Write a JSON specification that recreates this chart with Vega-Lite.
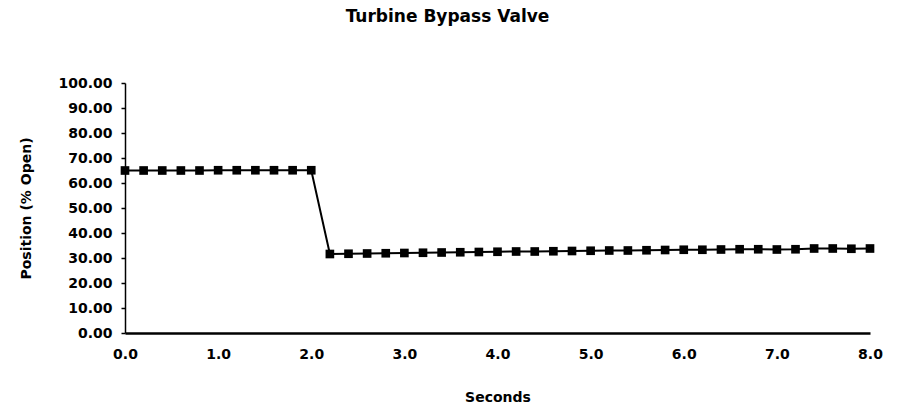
{
  "$schema": "https://vega.github.io/schema/vega-lite/v6.json",
  "autosize": {"type": "none"},
  "width": 745,
  "height": 250,
  "padding": {"left": 125, "top": 83, "right": 31, "bottom": 73},
  "background": "white",
  "title": {
    "text": "Turbine Bypass Valve",
    "font": "DejaVu Sans",
    "fontSize": 17,
    "fontWeight": "bold",
    "color": "black",
    "anchor": "middle",
    "dx": -50,
    "offset": 50
  },
  "config": {
    "view": {"stroke": null},
    "axis": {
      "labelFont": "DejaVu Sans",
      "labelFontWeight": "bold",
      "labelFontSize": 14,
      "labelColor": "black",
      "titleFont": "DejaVu Sans",
      "titleFontWeight": "bold",
      "titleFontSize": 14,
      "titleColor": "black",
      "domainColor": "black",
      "tickColor": "black",
      "grid": false
    }
  },
  "data": {
    "values": [
      {"t": 0.0, "pos": 65.0},
      {"t": 0.2, "pos": 65.0},
      {"t": 0.4, "pos": 65.0},
      {"t": 0.6, "pos": 65.0},
      {"t": 0.8, "pos": 65.0},
      {"t": 1.0, "pos": 65.1},
      {"t": 1.2, "pos": 65.1},
      {"t": 1.4, "pos": 65.1},
      {"t": 1.6, "pos": 65.1},
      {"t": 1.8, "pos": 65.1},
      {"t": 2.0, "pos": 65.1},
      {"t": 2.2, "pos": 31.6},
      {"t": 2.4, "pos": 31.7},
      {"t": 2.6, "pos": 31.8},
      {"t": 2.8, "pos": 31.9},
      {"t": 3.0, "pos": 32.0},
      {"t": 3.2, "pos": 32.1},
      {"t": 3.4, "pos": 32.2},
      {"t": 3.6, "pos": 32.3},
      {"t": 3.8, "pos": 32.4},
      {"t": 4.0, "pos": 32.5},
      {"t": 4.2, "pos": 32.6},
      {"t": 4.4, "pos": 32.6},
      {"t": 4.6, "pos": 32.7},
      {"t": 4.8, "pos": 32.8},
      {"t": 5.0, "pos": 32.9},
      {"t": 5.2, "pos": 33.0},
      {"t": 5.4, "pos": 33.0},
      {"t": 5.6, "pos": 33.1},
      {"t": 5.8, "pos": 33.2},
      {"t": 6.0, "pos": 33.3},
      {"t": 6.2, "pos": 33.3},
      {"t": 6.4, "pos": 33.4},
      {"t": 6.6, "pos": 33.5},
      {"t": 6.8, "pos": 33.5},
      {"t": 7.0, "pos": 33.4},
      {"t": 7.2, "pos": 33.5},
      {"t": 7.4, "pos": 33.8},
      {"t": 7.6, "pos": 33.8},
      {"t": 7.8, "pos": 33.7},
      {"t": 8.0, "pos": 33.8}
    ]
  },
  "encoding": {
    "x": {
      "field": "t",
      "type": "quantitative",
      "scale": {"domain": [0, 8], "nice": false, "zero": false},
      "axis": {
        "title": "Seconds",
        "format": ".1f",
        "values": [0, 1, 2, 3, 4, 5, 6, 7, 8],
        "ticks": false,
        "labelPadding": 14,
        "domainWidth": 2.5,
        "titlePadding": 29,
        "labelFlush": false
      }
    },
    "y": {
      "field": "pos",
      "type": "quantitative",
      "scale": {"domain": [0, 100], "nice": false},
      "axis": {
        "title": "Position (% Open)",
        "format": ".2f",
        "values": [0, 10, 20, 30, 40, 50, 60, 70, 80, 90, 100],
        "tickSize": 4,
        "tickWidth": 1.5,
        "domainWidth": 1.5,
        "labelPadding": 9,
        "titlePadding": 24,
        "labelFlush": false
      }
    }
  },
  "layer": [
    {"mark": {"type": "line", "color": "black", "strokeWidth": 2}},
    {"mark": {"type": "point", "shape": "square", "filled": true, "color": "black", "opacity": 1, "size": 75}}
  ]
}
